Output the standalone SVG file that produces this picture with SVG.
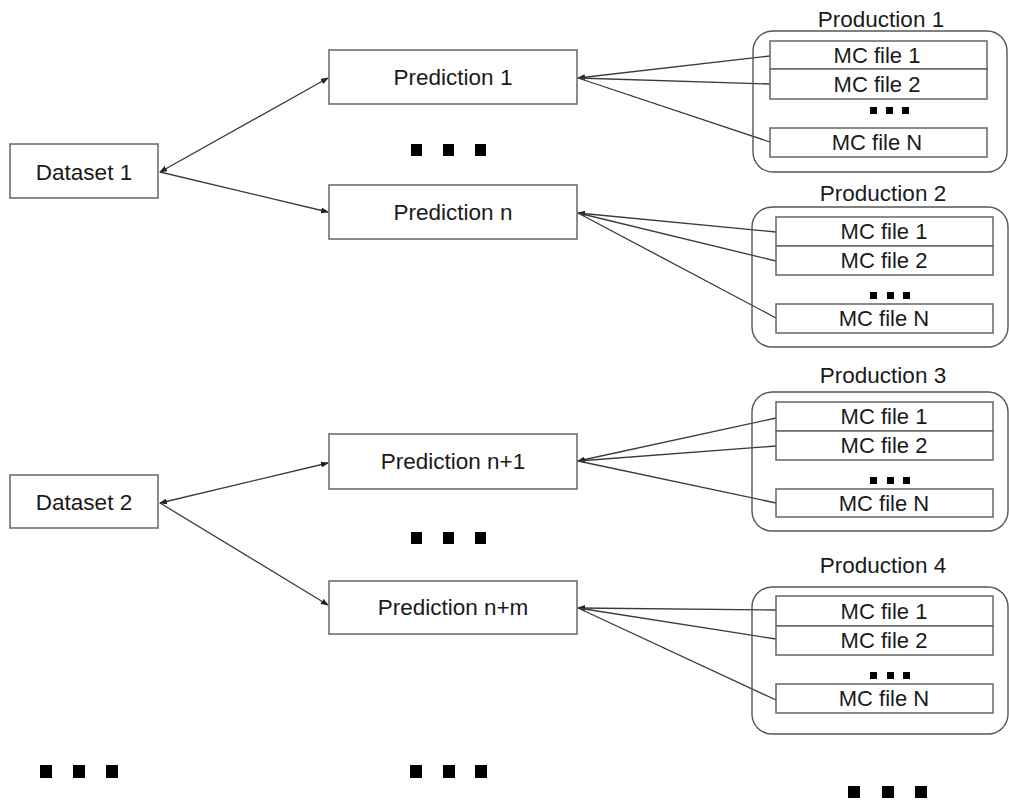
<svg xmlns="http://www.w3.org/2000/svg" width="1009" height="800" viewBox="0 0 1009 800">
<defs>
<marker id="ah" markerWidth="8" markerHeight="6" refX="7" refY="3" orient="auto-start-reverse" markerUnits="userSpaceOnUse">
<path d="M0,0 L8,3 L0,6 Z" fill="#222"/>
</marker>
<style>
.box{fill:#fff;stroke:#666;stroke-width:1.5}
.grp{fill:none;stroke:#555;stroke-width:1.4}
.ln{stroke:#3a3a3a;stroke-width:1.3;fill:none}
.t{font-family:"Liberation Sans",Arial,sans-serif;font-size:22.5px;fill:#1a1a1a;text-anchor:middle}
.s{font-family:"Liberation Sans",Arial,sans-serif;font-size:22px;fill:#1a1a1a;text-anchor:middle}
.d{fill:#000}
</style>
</defs>
<rect width="1009" height="800" fill="#fff"/>

<g id="connectors">
<line class="ln" x1="160" y1="172" x2="328" y2="78" marker-end="url(#ah)" marker-start="url(#ah)"/>
<line class="ln" x1="160" y1="172" x2="328" y2="212" marker-end="url(#ah)"/>
<line class="ln" x1="160" y1="503" x2="328" y2="463" marker-end="url(#ah)" marker-start="url(#ah)"/>
<line class="ln" x1="160" y1="503" x2="328" y2="605" marker-end="url(#ah)"/>
<line class="ln" x1="770" y1="56" x2="578" y2="78" marker-end="url(#ah)"/>
<line class="ln" x1="770" y1="84" x2="578" y2="78"/>
<line class="ln" x1="770" y1="142" x2="578" y2="78"/>
<line class="ln" x1="776" y1="232" x2="578" y2="213" marker-end="url(#ah)"/>
<line class="ln" x1="776" y1="261" x2="578" y2="213"/>
<line class="ln" x1="776" y1="318" x2="578" y2="213"/>
<line class="ln" x1="776" y1="418" x2="578" y2="461" marker-end="url(#ah)"/>
<line class="ln" x1="776" y1="446" x2="578" y2="461"/>
<line class="ln" x1="776" y1="503" x2="578" y2="461"/>
<line class="ln" x1="776" y1="610" x2="578" y2="608" marker-end="url(#ah)"/>
<line class="ln" x1="776" y1="639" x2="578" y2="608"/>
<line class="ln" x1="776" y1="700" x2="578" y2="608"/>
</g>

<g id="dataset1"><rect class="box" x="10" y="144" width="148" height="54"/><text class="t" x="84" y="180">Dataset 1</text></g>
<g id="dataset2"><rect class="box" x="10" y="475" width="148" height="53"/><text class="t" x="84" y="510">Dataset 2</text></g>

<g id="prediction1"><rect class="box" x="329" y="50" width="248" height="54"/><text class="t" x="453" y="85">Prediction 1</text></g>
<g id="predictionn"><rect class="box" x="329" y="185" width="248" height="54"/><text class="t" x="453" y="220">Prediction n</text></g>
<g id="predictionn1"><rect class="box" x="329" y="434" width="248" height="55"/><text class="t" x="453" y="469">Prediction n+1</text></g>
<g id="predictionnm"><rect class="box" x="329" y="581" width="248" height="53"/><text class="t" x="453" y="615">Prediction n+m</text></g>

<g id="production1">
<text class="t" x="881" y="27">Production 1</text>
<rect class="grp" x="753" y="31" width="254" height="141" rx="20"/>
<rect class="box" x="770" y="41" width="217" height="28"/><text class="s" x="877" y="63">MC file 1</text>
<rect class="box" x="770" y="69" width="217" height="30"/><text class="s" x="877" y="92">MC file 2</text>
<rect class="d" x="870" y="107" width="7" height="7"/><rect class="d" x="886" y="107" width="7" height="7"/><rect class="d" x="902" y="107" width="7" height="7"/>
<rect class="box" x="770" y="128" width="217" height="29"/><text class="s" x="877" y="150">MC file N</text>
</g>

<g id="production2">
<text class="t" x="883" y="201">Production 2</text>
<rect class="grp" x="752" y="207" width="256" height="140" rx="20"/>
<rect class="box" x="776" y="217" width="217" height="29"/><text class="s" x="884" y="239">MC file 1</text>
<rect class="box" x="776" y="246" width="217" height="29"/><text class="s" x="884" y="268">MC file 2</text>
<rect class="d" x="870" y="292" width="7" height="7"/><rect class="d" x="887" y="292" width="7" height="7"/><rect class="d" x="903" y="292" width="7" height="7"/>
<rect class="box" x="776" y="304" width="217" height="29"/><text class="s" x="884" y="326">MC file N</text>
</g>

<g id="production3">
<text class="t" x="883" y="383">Production 3</text>
<rect class="grp" x="752" y="392" width="256" height="139" rx="20"/>
<rect class="box" x="776" y="402" width="217" height="29"/><text class="s" x="884" y="424">MC file 1</text>
<rect class="box" x="776" y="431" width="217" height="29"/><text class="s" x="884" y="453">MC file 2</text>
<rect class="d" x="870" y="477" width="7" height="7"/><rect class="d" x="887" y="477" width="7" height="7"/><rect class="d" x="903" y="477" width="7" height="7"/>
<rect class="box" x="776" y="489" width="217" height="28"/><text class="s" x="884" y="511">MC file N</text>
</g>

<g id="production4">
<text class="t" x="883" y="573">Production 4</text>
<rect class="grp" x="752" y="587" width="256" height="147" rx="20"/>
<rect class="box" x="776" y="596" width="217" height="30"/><text class="s" x="884" y="619">MC file 1</text>
<rect class="box" x="776" y="626" width="217" height="29"/><text class="s" x="884" y="648">MC file 2</text>
<rect class="d" x="870" y="672" width="7" height="7"/><rect class="d" x="887" y="672" width="7" height="7"/><rect class="d" x="903" y="672" width="7" height="7"/>
<rect class="box" x="776" y="684" width="217" height="29"/><text class="s" x="884" y="706">MC file N</text>
</g>

<g id="ellipses">
<rect class="d" x="411" y="144" width="11" height="12"/><rect class="d" x="443" y="144" width="11" height="12"/><rect class="d" x="475" y="144" width="11" height="12"/>
<rect class="d" x="411" y="532" width="11" height="12"/><rect class="d" x="443" y="532" width="11" height="12"/><rect class="d" x="475" y="532" width="11" height="12"/>
<rect class="d" x="40" y="765" width="12" height="13"/><rect class="d" x="73" y="765" width="12" height="13"/><rect class="d" x="106" y="765" width="12" height="13"/>
<rect class="d" x="410" y="765" width="12" height="13"/><rect class="d" x="443" y="765" width="12" height="13"/><rect class="d" x="475" y="765" width="12" height="13"/>
<rect class="d" x="848" y="786" width="12" height="12"/><rect class="d" x="882" y="786" width="12" height="12"/><rect class="d" x="915" y="786" width="12" height="12"/>
</g>
</svg>
